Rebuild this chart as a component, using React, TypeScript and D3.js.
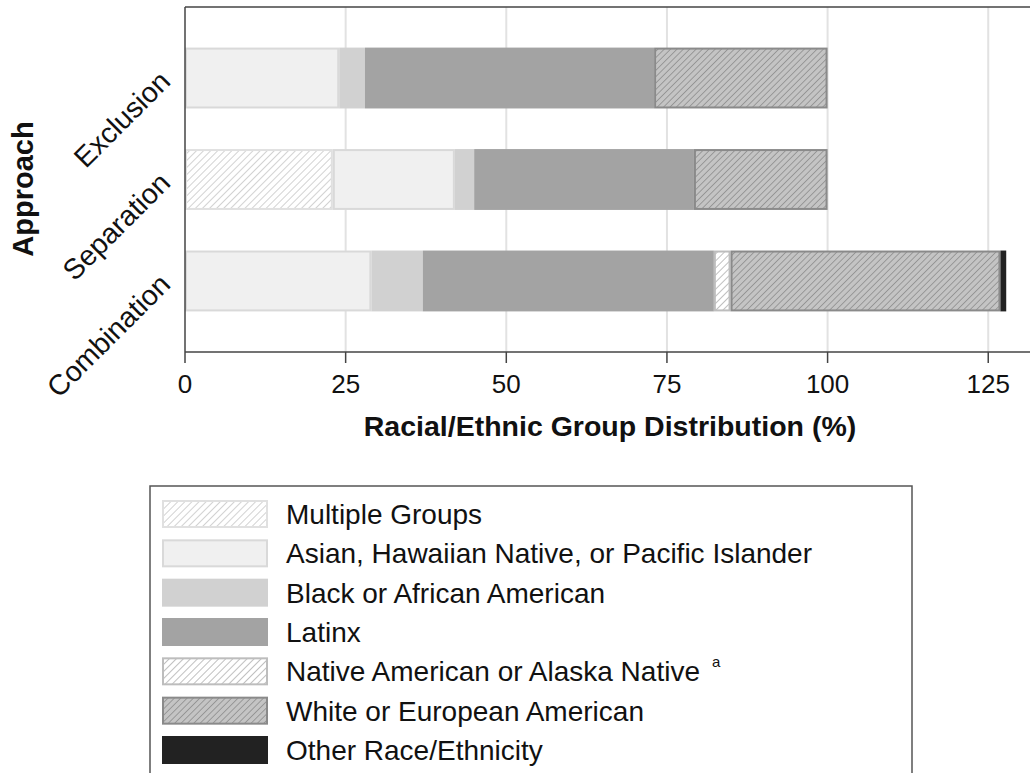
import React from "react";
import * as d3 from "d3";

const categories = ["Exclusion", "Separation", "Combination"];
const groups = [
  "Multiple Groups",
  "Asian, Hawaiian Native, or Pacific Islander",
  "Black or African American",
  "Latinx",
  "Native American or Alaska Native",
  "White or European American",
  "Other Race/Ethnicity",
];
// values per group, in category order
const multiple = [0, 23, 0];
const asian = [24, 19, 29];
const black = [4, 3, 8];
const latinx = [45, 34.2, 45.3];
const native = [0, 0, 2.6];
const white = [27, 20.8, 42];
const other = [0, 0, 0.9];
const xTicks = [0, 25, 50, 75, 100, 125];

const series = [multiple, asian, black, latinx, native, white, other];

const styles = [
  { fill: "url(#hatchMulti)", stroke: "#e0e0e0" },
  { fill: "#f0f0f0", stroke: "#d9d9d9" },
  { fill: "#d1d1d1", stroke: "none" },
  { fill: "#a3a3a3", stroke: "none" },
  { fill: "url(#hatchNative)", stroke: "#bdbdbd" },
  { fill: "url(#hatchWhite)", stroke: "#8a8a8a" },
  { fill: "#222222", stroke: "none" },
];

const W = 1030;
const H = 773;
const margin = { top: 7, left: 185, bottom: 352 };
const font = "'Liberation Sans', Arial, sans-serif";

const App = () => {
  const x = d3.scaleLinear().domain([0, 131.5]).range([margin.left, W]);
  const y = d3
    .scaleBand<string>()
    .domain(categories)
    .range([margin.top, margin.bottom])
    .padding(0.4);

  // stack the groups left to right
  const rows = categories.map((c, i) => {
    let acc = 0;
    return series.map((s, g) => {
      const x0 = acc;
      acc += s[i];
      return { cat: c, g, x0, x1: acc };
    });
  });

  const legendY = d3.scaleLinear().domain([0, 6]).range([514, 750]);

  return (
    <svg
      width={W}
      height={H}
      style={{ position: "absolute", left: 0, top: 0, background: "#fff" }}
      fontFamily={font}
    >
      <defs>
        <pattern id="hatchMulti" patternUnits="userSpaceOnUse" width={5} height={5} patternTransform="rotate(45)">
          <rect width={5} height={5} fill="#ffffff" />
          <line x1={0} y1={0} x2={0} y2={5} stroke="#cdcdcd" strokeWidth={1.8} />
        </pattern>
        <pattern id="hatchNative" patternUnits="userSpaceOnUse" width={5} height={5} patternTransform="rotate(45)">
          <rect width={5} height={5} fill="#ffffff" />
          <line x1={0} y1={0} x2={0} y2={5} stroke="#c0c0c0" strokeWidth={2} />
        </pattern>
        <pattern id="hatchWhite" patternUnits="userSpaceOnUse" width={4.5} height={4.5} patternTransform="rotate(45)">
          <rect width={4.5} height={4.5} fill="#c4c4c4" />
          <line x1={0} y1={0} x2={0} y2={4.5} stroke="#8e8e8e" strokeWidth={1.6} />
        </pattern>
      </defs>

      {/* grid */}
      {xTicks.slice(1).map((t) => (
        <line key={t} x1={x(t)} x2={x(t)} y1={margin.top} y2={margin.bottom} stroke="#e2e2e2" strokeWidth={2} />
      ))}

      {/* bars */}
      {rows.map((r) =>
        r
          .filter((d) => d.x1 > d.x0)
          .map((d) => {
            const st = styles[d.g];
            const sw = st.stroke === "none" ? 0 : 2;
            return (
              <rect
                key={d.cat + d.g}
                x={x(d.x0) + sw / 2}
                y={(y(d.cat) as number) + sw / 2}
                width={Math.max(0, x(d.x1) - x(d.x0) - sw)}
                height={y.bandwidth() - sw}
                fill={st.fill}
                stroke={st.stroke}
                strokeWidth={sw}
              />
            );
          })
      )}

      {/* frame */}
      <line x1={margin.left} x2={W} y1={margin.top} y2={margin.top} stroke="#444" strokeWidth={1.5} />
      <line x1={margin.left} x2={W} y1={margin.bottom} y2={margin.bottom} stroke="#444" strokeWidth={1.5} />
      <line x1={margin.left} x2={margin.left} y1={margin.top} y2={margin.bottom} stroke="#444" strokeWidth={1.5} />

      {/* x ticks */}
      {xTicks.map((t) => (
        <g key={t}>
          <line x1={x(t)} x2={x(t)} y1={margin.bottom} y2={margin.bottom + 11} stroke="#444" strokeWidth={1.5} />
          <text x={x(t)} y={393} textAnchor="middle" fontSize={26} fill="#111">
            {t}
          </text>
        </g>
      ))}
      <text x={610} y={436} textAnchor="middle" fontSize={28.5} fontWeight="bold" fill="#111">
        Racial/Ethnic Group Distribution (%)
      </text>

      {/* y labels */}
      {categories.map((c) => (
        <text
          key={c}
          transform={`translate(172,${(y(c) as number) + y.bandwidth() / 2 + 5}) rotate(-45)`}
          textAnchor="end"
          fontSize={28.5}
          fill="#111"
        >
          {c}
        </text>
      ))}
      <text transform="translate(33,189) rotate(-90)" textAnchor="middle" fontSize={29} fontWeight="bold" fill="#111">
        Approach
      </text>

      {/* legend */}
      <rect x={150} y={486} width={762} height={300} fill="none" stroke="#555" strokeWidth={1.5} />
      {groups.map((g, i) => {
        const st = styles[i];
        const cy = legendY(i);
        return (
          <g key={g}>
            <rect
              x={163}
              y={cy - 13}
              width={104}
              height={26}
              fill={st.fill}
              stroke={st.stroke === "none" ? st.fill : st.stroke}
              strokeWidth={2}
            />
            <text x={286} y={cy + 10} fontSize={28} fill="#111">
              {g}
              {i === 4 ? (
                <tspan fontSize={15} dx={12} dy={-14}>
                  a
                </tspan>
              ) : null}
            </text>
          </g>
        );
      })}
    </svg>
  );
};

export default App;
